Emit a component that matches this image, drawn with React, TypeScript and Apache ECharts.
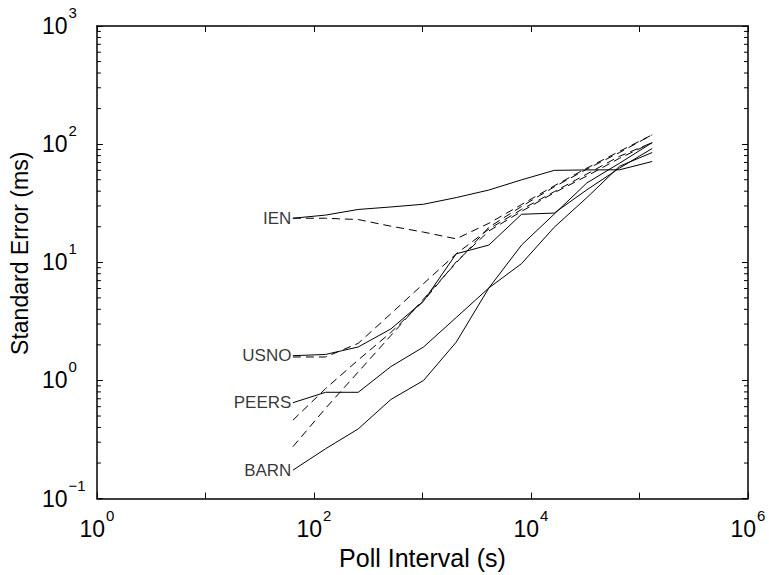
import React, { useEffect, useRef } from "react";
import * as echarts from "echarts";

const pollIntervals = [64, 128, 256, 512, 1024, 2048, 4096, 8192, 16384, 32768, 65536, 131072];

const ienSolid = [23.6, 25.1, 28.0, 29.4, 31.0, 35.3, 40.9, 49.9, 60.0, 60.5, 60.7, 71.3];
const usnoSolid = [1.62, 1.66, 1.92, 2.73, 4.7, 11.8, 14.0, 25.5, 26.1, 41.1, 62.7, 92];
const peersSolid = [0.648, 0.794, 0.794, 1.31, 1.92, 3.41, 6.07, 9.75, 19.8, 35.3, 65, 85];
const barnSolid = [0.174, 0.264, 0.389, 0.69, 1.0, 2.11, 6.07, 14.0, 25.6, 47, 69, 103];

const ienDashed = [23.6, 23.6, 23.0, 20.2, 18.0, 15.8, 21.4, 30.8, 44.4, 62.7, 87, 120];
const usnoDashed = [1.58, 1.58, 2.06, 3.67, 6.6, 11.8, 19.1, 28.0, 39.6, 55.9, 79, 103];
const peersDashed = [0.461, 0.853, 1.49, 2.55, 4.7, 10.1, 18.4, 27.0, 38.8, 53.8, 76, 103];
const barnDashed = [0.275, 0.581, 1.18, 2.4, 4.89, 9.9, 19.8, 29.7, 43.5, 61.5, 85, 120];

const stations = ["IEN", "USNO", "PEERS", "BARN"];
const solidSets = [ienSolid, usnoSolid, peersSolid, barnSolid];
const dashedSets = [ienDashed, usnoDashed, peersDashed, barnDashed];

const yMinorMultipliers = [2, 3, 4, 5, 6, 7, 8, 9];
const yDecades = [0.1, 1, 10, 100];

const FONT = "'Liberation Sans', Arial, Helvetica, sans-serif";

function expLabel(v: number) {
  const e = Math.round(Math.log10(v));
  const s = e < 0 ? "\u2212" + Math.abs(e) : String(e);
  return `{b|10}{s|${s}}`;
}

const rich = {
  b: { fontSize: 23, lineHeight: 42, fontFamily: FONT, color: "#000" },
  s: { fontSize: 15, lineHeight: 18, verticalAlign: "top", padding: [0, 0, 0, 1], fontFamily: FONT, color: "#000" },
};

export default function App() {
  const ref = useRef<HTMLDivElement>(null);
  useEffect(() => {
    if (!ref.current) return;
    const chart = echarts.init(ref.current, undefined, { renderer: "svg" });

    const lineSeries: any[] = [];
    stations.forEach((name, i) => {
      lineSeries.push({
        type: "line",
        name: name + " solid",
        data: pollIntervals.map((x, k) => [x, solidSets[i][k]]),
        showSymbol: false,
        symbol: "none",
        lineStyle: { color: "#000", width: 1, type: "solid" },
        z: 3,
      });
      lineSeries.push({
        type: "line",
        name: name + " dashed",
        data: pollIntervals.map((x, k) => [x, dashedSets[i][k]]),
        showSymbol: false,
        symbol: "none",
        lineStyle: { color: "#000", width: 1, type: [8, 5] },
        z: 3,
      });
    });

    const minorData: number[] = [];
    yDecades.forEach((d) => yMinorMultipliers.forEach((m) => minorData.push(d * m)));

    const axisCommon = {
      axisLine: { show: true, lineStyle: { color: "#000", width: 1.5 } },
      axisTick: { show: true, inside: true, length: 6, lineStyle: { color: "#000", width: 1 } },
      minorTick: { show: false },
      splitLine: { show: false },
    };

    const option: any = {
      animation: false,
      backgroundColor: "#fff",
      grid: { left: 94, right: 21, top: 26, bottom: 69, containLabel: false },
      xAxis: [
        {
          type: "log",
          logBase: 10,
          min: 1,
          max: 1e6,
          splitNumber: 6,
          position: "bottom",
          name: "Poll Interval (s)",
          nameLocation: "middle",
          nameGap: 44,
          nameTextStyle: { fontSize: 25, fontFamily: FONT, color: "#000" },
          ...axisCommon,
          axisLabel: {
            margin: 9,
            fontSize: 23,
            fontFamily: FONT,
            color: "#000",
            showMinLabel: true,
            showMaxLabel: true,
            formatter: (v: number) => {
              const e = Math.round(Math.log10(v));
              return e % 2 === 0 ? expLabel(v) : "";
            },
            rich,
          },
        },
        {
          type: "log",
          logBase: 10,
          min: 1,
          max: 1e6,
          splitNumber: 6,
          position: "top",
          ...axisCommon,
          axisLabel: { show: false },
        },
      ],
      yAxis: [
        {
          type: "log",
          logBase: 10,
          min: 0.1,
          max: 1000,
          splitNumber: 4,
          position: "left",
          name: "Standard Error (ms)",
          nameLocation: "middle",
          nameGap: 58,
          nameTextStyle: { fontSize: 23, fontFamily: FONT, color: "#000", padding: [0, 0, 0, 18] },
          ...axisCommon,
          axisLabel: {
            margin: 55,
            align: "left",
            fontSize: 23,
            fontFamily: FONT,
            color: "#000",
            showMinLabel: true,
            showMaxLabel: true,
            formatter: (v: number) => expLabel(v),
            rich,
          },
        },
        {
          type: "log",
          logBase: 10,
          min: 0.1,
          max: 1000,
          splitNumber: 4,
          position: "right",
          ...axisCommon,
          axisLabel: { show: false },
        },
      ],
      series: [
        ...lineSeries,
        {
          type: "scatter",
          name: "stationLabels",
          silent: true,
          symbol: "circle",
          symbolSize: 1,
          itemStyle: { color: "rgba(0,0,0,0)" },
          data: stations.map((n, i) => ({ value: [pollIntervals[0], solidSets[i][0]], name: n })),
          label: {
            show: true,
            position: "left",
            distance: 1,
            formatter: (p: any) => p.name,
            fontSize: 17,
            fontFamily: FONT,
            color: "#000",
          },
          z: 4,
        },
        {
          type: "custom",
          name: "minorTicks",
          clip: false,
          silent: true,
          data: minorData.map((v) => [1, v]),
          renderItem: (params: any, api: any) => {
            const v = api.value(1);
            const l = api.coord([1, v]);
            const r = api.coord([1e6, v]);
            return {
              type: "group",
              children: [
                { type: "line", shape: { x1: l[0], y1: l[1], x2: l[0] + 4, y2: l[1] }, style: { stroke: "#000", lineWidth: 1 } },
                { type: "line", shape: { x1: r[0], y1: r[1], x2: r[0] - 4, y2: r[1] }, style: { stroke: "#000", lineWidth: 1 } },
              ],
            };
          },
          z: 2,
        },
      ],
    };
    chart.setOption(option);
    return () => chart.dispose();
  }, []);
  return <div ref={ref} style={{ position: "fixed", left: 0, top: 0, width: 769, height: 575 }} />;
}
